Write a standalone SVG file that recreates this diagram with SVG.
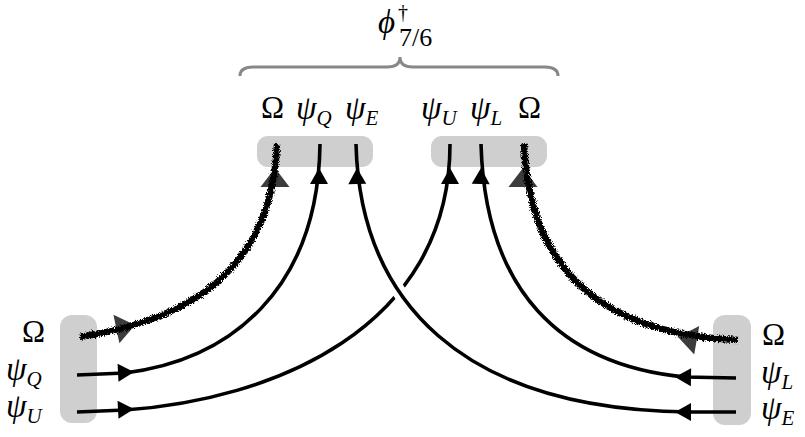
<svg xmlns="http://www.w3.org/2000/svg" width="805" height="437" viewBox="0 0 805 437">
<style>
.box{fill:#cfcfcf}
.ln{fill:none;stroke:#000;stroke-width:3.6;stroke-linecap:butt}
.fz{fill:none;stroke:#000;stroke-width:6.5;filter:url(#rough)}
.halo{fill:none;stroke:#fff;stroke-width:14}
.ah{fill:#000}
.gh{fill:#3c3c3c}
.brace{fill:none;stroke:#888;stroke-width:3}
.t{font-family:"Liberation Serif","DejaVu Serif",serif;font-size:33px;fill:#000}
.om{font-size:31px;font-style:normal}
.i{font-style:italic}
.sub{font-size:21px;font-style:italic}
.up{font-size:26px;font-style:normal}
</style>
<defs>
<filter id="rough" x="-20%" y="-20%" width="140%" height="140%">
<feTurbulence type="fractalNoise" baseFrequency="1.3" numOctaves="3" seed="5" result="n"/>
<feDisplacementMap in="SourceGraphic" in2="n" scale="6" xChannelSelector="R" yChannelSelector="G"/>
</filter>
<path id="ar" d="M0,0 L-16,-9 L-16,9 Z"/>
<path id="gar" d="M0,0 L-19,-14.5 L-19,14.5 Z"/>
<clipPath id="cx"><rect x="380" y="270" width="40" height="50"/></clipPath>
</defs>

<g id="brace">
<path class="brace" d="M240,76 Q240,67 253,67 L387,67 Q400,67 400,57 Q400,67 413,67 L545,67 Q558,67 558,76"/>
<text class="t i" x="378" y="33">ϕ</text>
<text class="t up" x="398" y="19" style="font-size:20px">†</text>
<text class="t up" x="399" y="46">7/6</text>
</g>

<g id="top-left">
<rect class="box" x="257" y="136" width="116" height="31" rx="11"/>
<text class="t om" x="261" y="118">Ω</text>
<text class="t i" x="296" y="119">ψ<tspan class="sub" dy="6">Q</tspan></text>
<text class="t i" x="345" y="119">ψ<tspan class="sub" dy="6">E</tspan></text>
</g>
<g id="top-right">
<rect class="box" x="431" y="136" width="116" height="31" rx="11"/>
<text class="t i" x="421" y="119">ψ<tspan class="sub" dy="6">U</tspan></text>
<text class="t i" x="470" y="119">ψ<tspan class="sub" dy="6">L</tspan></text>
<text class="t om" x="518" y="118">Ω</text>
</g>
<g id="left">
<rect class="box" x="60" y="315" width="37" height="108" rx="12"/>
<text class="t om" x="22" y="342">Ω</text>
<text class="t i" x="6" y="380">ψ<tspan class="sub" dy="6">Q</tspan></text>
<text class="t i" x="6" y="417">ψ<tspan class="sub" dy="6">U</tspan></text>
</g>
<g id="right">
<rect class="box" x="713" y="315" width="38" height="110" rx="12"/>
<text class="t om" x="762" y="345">Ω</text>
<text class="t i" x="761" y="383">ψ<tspan class="sub" dy="6">L</tspan></text>
<text class="t i" x="761" y="419">ψ<tspan class="sub" dy="6">E</tspan></text>
</g>

<g id="connectors">
<use href="#gar" class="gh" transform="translate(135,325) rotate(-12)"/>
<use href="#gar" class="gh" transform="translate(275,168) rotate(-90)"/>
<use href="#gar" class="gh" transform="translate(678,337) rotate(190)"/>
<use href="#gar" class="gh" transform="translate(523,168) rotate(-90)"/>
<path class="fz" d="M80,337 C190,320 272,270 277,144"/>
<path class="fz" d="M738,340 C620,335 530,285 524,144"/>

<path class="ln" d="M77,375 L125,373 C230,360 318,290 320,144"/>
<path class="ln" d="M77,412 L125,410 C270,400 450,330 450,144"/>
<path class="halo" clip-path="url(#cx)" d="M356,144 C360,300 460,410 690,412 L736,412"/>
<path class="ln" d="M356,144 C360,300 460,410 690,412 L736,412"/>
<path class="ln" d="M481,144 C485,290 560,365 685,377 L736,378"/>

<use href="#ar" class="ah" transform="translate(134,372) rotate(-3)"/>
<use href="#ar" class="ah" transform="translate(134,409) rotate(-3)"/>
<use href="#ar" class="ah" transform="translate(319,168) rotate(-90)"/>
<use href="#ar" class="ah" transform="translate(357,168) rotate(-91)"/>
<use href="#ar" class="ah" transform="translate(450,168) rotate(-90)"/>
<use href="#ar" class="ah" transform="translate(481,168) rotate(-89)"/>
<use href="#ar" class="ah" transform="translate(675,377) rotate(181)"/>
<use href="#ar" class="ah" transform="translate(675,412) rotate(180)"/>
</g>
</svg>
